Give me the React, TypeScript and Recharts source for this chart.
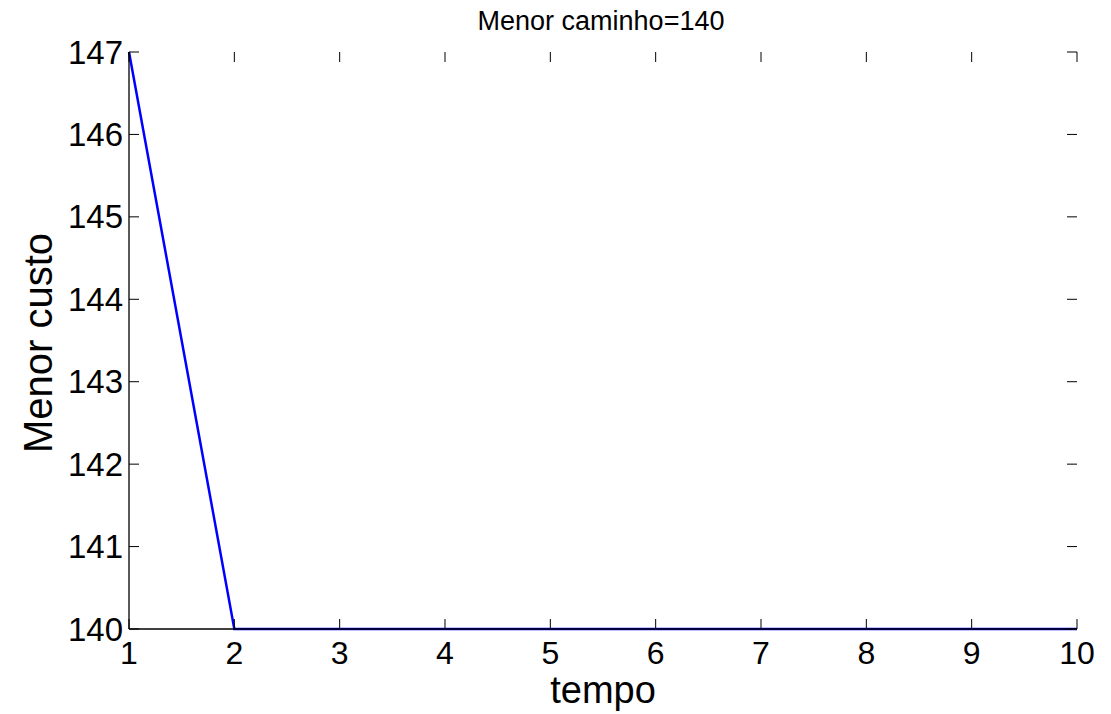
import { LineChart, Line, XAxis, YAxis } from "recharts";

// values
const tempo = [1, 2, 3, 4, 5, 6, 7, 8, 9, 10];
const menorCusto = [147, 140, 140, 140, 140, 140, 140, 140, 140, 140];
const xTicks = [1, 2, 3, 4, 5, 6, 7, 8, 9, 10];
const yTicks = [140, 141, 142, 143, 144, 145, 146, 147];
const titulo = "Menor caminho=140";
const xLabel = "tempo";
const yLabel = "Menor custo";

const data = tempo.map((t, i) => ({ tempo: t, custo: menorCusto[i] }));

// plot box (matlab-ish axes frame)
const W = 1111;
const H = 714;
const LEFT = 129;
const RIGHT = 1077;
const TOP = 52;
const BOTTOM = 629;
const TICK = 10;
const FONT = '"Liberation Sans", Arial, sans-serif';

const XTick = (props: any) => {
  const { x, payload } = props;
  return (
    <g>
      <line x1={x} x2={x} y1={BOTTOM} y2={BOTTOM - TICK} stroke="#000" />
      <line x1={x} x2={x} y1={TOP} y2={TOP + TICK} stroke="#000" />
      <text x={x} y={BOTTOM + 35} textAnchor="middle" fontSize={32} fontFamily={FONT} fill="#000">
        {payload.value}
      </text>
    </g>
  );
};

const YTick = (props: any) => {
  const { y, payload } = props;
  return (
    <g>
      <line x1={LEFT} x2={LEFT + TICK} y1={y} y2={y} stroke="#000" />
      <line x1={RIGHT} x2={RIGHT - TICK} y1={y} y2={y} stroke="#000" />
      <text x={123} y={y + 11.5} textAnchor="end" fontSize={33} fontFamily={FONT} fill="#000">
        {payload.value}
      </text>
    </g>
  );
};

export default function App() {
  return (
    <div style={{ position: "absolute", left: 0, top: 0, width: W, height: H, background: "#fff" }}>
      <LineChart
        width={W}
        height={H}
        data={data}
        margin={{ top: TOP, right: W - RIGHT, bottom: H - BOTTOM - 30, left: LEFT - 60 }}
      >
        <XAxis
          dataKey="tempo"
          type="number"
          domain={[1, 10]}
          ticks={xTicks}
          interval={0}
          height={30}
          tickLine={false}
          axisLine={{ stroke: "#000", strokeWidth: 1.3 }}
          tick={<XTick />}
          label={() => (
            <text x={(LEFT + RIGHT) / 2} y={703} textAnchor="middle" fontSize={38} fontFamily={FONT} fill="#000">
              {xLabel}
            </text>
          )}
        />
        <XAxis
          xAxisId="top"
          orientation="top"
          type="number"
          domain={[1, 10]}
          height={0}
          tick={false}
          tickLine={false}
          axisLine={{ stroke: "#000", strokeWidth: 1.3 }}
        />
        <YAxis
          type="number"
          domain={[140, 147]}
          ticks={yTicks}
          interval={0}
          width={60}
          tickLine={false}
          axisLine={{ stroke: "#000", strokeWidth: 1.3 }}
          tick={<YTick />}
          label={() => (
            <text
              x={52}
              y={343}
              textAnchor="middle"
              fontSize={40}
              fontFamily={FONT}
              fill="#000"
              transform="rotate(-90, 52, 343)"
            >
              {yLabel}
            </text>
          )}
        />
        <YAxis
          yAxisId="right"
          orientation="right"
          type="number"
          domain={[140, 147]}
          width={0}
          tick={false}
          tickLine={false}
          axisLine={{ stroke: "#000", strokeWidth: 1.3 }}
        />
        <Line
          type="linear"
          dataKey="custo"
          stroke="#0000ff"
          strokeWidth={2.5}
          dot={false}
          isAnimationActive={false}
        />
      </LineChart>
      <svg width={W} height={50} style={{ position: "absolute", left: 0, top: 0 }}>
        <text x={601} y={30} textAnchor="middle" fontSize={27} fontFamily={FONT} fill="#000">
          {titulo}
        </text>
      </svg>
    </div>
  );
}
